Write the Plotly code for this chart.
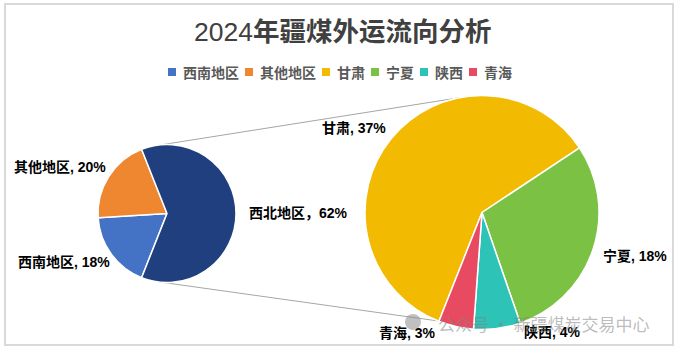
import math
import re
import plotly.graph_objects as go

W, H = 679, 351

title_text = "2024年疆煤外运流向分析"
main_labels = ["西南地区", "其他地区", "西北地区"]
main_values = [18, 20, 62]
sub_labels = ["甘肃", "宁夏", "陕西", "青海"]
sub_values = [37, 18, 4, 3]
legend_labels = ["西南地区", "其他地区", "甘肃", "宁夏", "陕西", "青海"]
watermark_text = "公众号 · 新疆煤炭交易中心"

main_colors = ["#4472C4", "#EF8630", "#203F7F"]
sub_colors = ["#F2BA00", "#7BC143", "#2DC3B6", "#E84B61"]
legend_colors = main_colors[:2] + sub_colors

# geometry (pixels)
L_CX, L_CY, L_R = 167, 213.5, 69
R_CX, R_CY, R_R = 482, 212.5, 117

# label anchors (pixels): (x, y, xanchor)
main_label_pos = [(112, 262, "right"), (108, 167, "right"), (247, 213, "left")]
sub_label_pos = [(388, 128, "right"), (601, 256, "left"), (522, 332, "left"), (377, 333, "left")]

CJK = "Noto Sans CJK SC"
LAT = "Liberation Sans"


def px(x):
    return x / W


def py(y):
    return 1 - y / H


def domain(cx, cy, r):
    return dict(x=[px(cx - r), px(cx + r)], y=[py(cy + r), py(cy - r)])


total = sum(main_values)
big = main_values[-1]
rot = (90 - 180 * big / total - 360 * (total - big) / total) % 360

fig = go.Figure()
fig.add_trace(go.Pie(
    labels=main_labels, values=main_values, sort=False, direction="clockwise",
    rotation=rot, textinfo="none", showlegend=False,
    marker=dict(colors=main_colors, line=dict(color="white", width=1.5)),
    domain=domain(L_CX, L_CY, L_R), hoverinfo="label+value",
))
fig.add_trace(go.Pie(
    labels=sub_labels, values=sub_values, sort=False, direction="clockwise",
    rotation=rot, textinfo="none", showlegend=False,
    marker=dict(colors=sub_colors, line=dict(color="white", width=1.5)),
    domain=domain(R_CX, R_CY, R_R), hoverinfo="label+value",
))

annotations = []
shapes = []

# title: digits regular, CJK part bold
m = re.match(r"(\d+)(.*)", title_text)
title_html = f"{m.group(1)}<b>{m.group(2)}</b>"
annotations.append(dict(
    x=px(342), y=py(32.5), xref="paper", yref="paper", text=title_html, showarrow=False,
    xanchor="center", yanchor="middle",
    font=dict(family=f"{LAT}, {CJK}", size=26.5, color="#404040"),
))

# data labels
lab_font = dict(family=f"{LAT}, {CJK}", size=14, color="#000000", weight="bold")
for lab, val, (x, y, xa) in zip(main_labels, main_values, main_label_pos):
    sep = "，" if lab == "西北地区" else ", "
    annotations.append(dict(x=px(x), y=py(y), xref="paper", yref="paper",
                            text=f"{lab}{sep}{val}%", showarrow=False,
                            xanchor=xa, yanchor="middle", font=lab_font))
for lab, val, (x, y, xa) in zip(sub_labels, sub_values, sub_label_pos):
    annotations.append(dict(x=px(x), y=py(y), xref="paper", yref="paper",
                            text=f"{lab}, {val}%", showarrow=False,
                            xanchor=xa, yanchor="middle", font=lab_font))

# legend (manual)
lx = 168
ly = 72
sq = 8
for lab, col in zip(legend_labels, legend_colors):
    shapes.append(dict(type="rect", xref="paper", yref="paper",
                       x0=px(lx), x1=px(lx + sq), y0=py(ly + sq / 2), y1=py(ly - sq / 2),
                       fillcolor=col, line=dict(width=0)))
    tw = len(lab) * 14.0
    annotations.append(dict(x=px(lx + sq + 7), y=py(ly), xref="paper", yref="paper",
                            text=lab, showarrow=False, xanchor="left", yanchor="middle",
                            xshift=-2,
                            font=dict(family=CJK, size=14, color="#595959", weight="bold")))
    lx += sq + 7 + tw + 6

# connector lines
def pt(cx, cy, r, ang):
    a = math.radians(ang)
    return cx + r * math.cos(a), cy - r * math.sin(a)

for la, ra in [(94, 101), (-94, -112)]:
    x0, y0 = pt(L_CX, L_CY, L_R, la)
    x1, y1 = pt(R_CX, R_CY, R_R, ra)
    shapes.append(dict(type="line", xref="paper", yref="paper", layer="below",
                       x0=px(x0), y0=py(y0), x1=px(x1), y1=py(y1),
                       line=dict(color="#A6A6A6", width=1)))

# border
shapes.append(dict(type="rect", xref="paper", yref="paper",
                   x0=px(5), x1=px(673), y0=py(345), y1=py(4),
                   line=dict(color="#D9D9D9", width=2), fillcolor="rgba(0,0,0,0)"))

# watermark
shapes.append(dict(type="circle", xref="paper", yref="paper",
                   x0=px(405), x1=px(421), y0=py(330), y1=py(314),
                   fillcolor="rgba(140,140,140,0.55)", line=dict(width=0)))
annotations.append(dict(x=px(436), y=py(323), xref="paper", yref="paper",
                        text=watermark_text, showarrow=False, xanchor="left", yanchor="middle",
                        font=dict(family=CJK, size=17, color="rgba(130,130,130,0.55)")))

fig.update_layout(
    width=W, height=H, margin=dict(l=0, r=0, t=0, b=0),
    paper_bgcolor="white", plot_bgcolor="white",
    annotations=annotations, shapes=shapes,
)

fig.write_html("out.html")
